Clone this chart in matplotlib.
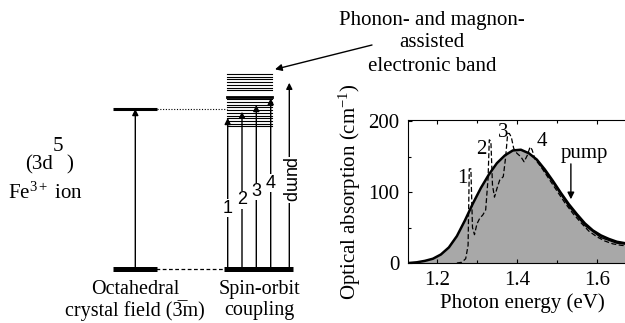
import numpy as np
import matplotlib
matplotlib.use('Agg')
import matplotlib.pyplot as plt

plt.rcParams['font.family'] = ['Liberation Serif', 'DejaVu Serif']
plt.rcParams['mathtext.fontset'] = 'custom'
plt.rcParams['mathtext.rm'] = 'Liberation Serif'
plt.rcParams['mathtext.it'] = 'Liberation Serif:italic'

# Level scheme (energies in units of the crystal-field level)
cf_levels = [0.0, 1.0]
band_levels = [1.219, 1.202, 1.185, 1.168, 1.151, 1.134, 1.117,
               1.078, 1.061, 1.044, 1.027, 1.010, 0.993, 0.976,
               0.959, 0.942, 0.925, 0.908, 0.891]
band_thick = 1.078
line_tips = [0.944, 0.983, 1.025, 1.067]
line_names = ['1', '2', '3', '4']
pump_tip = 1.164

# Absorption spectrum
e_fit = [1.13, 1.15, 1.17, 1.19, 1.21, 1.23, 1.25, 1.27, 1.29, 1.31, 1.33,
         1.35, 1.37, 1.39, 1.41, 1.43, 1.45, 1.47, 1.49, 1.51, 1.53, 1.55,
         1.57, 1.59, 1.61, 1.63, 1.65, 1.67, 1.70]
a_fit = [0, 1, 3, 6, 12, 22, 38, 60, 84, 106, 125,
         141, 152, 159, 160, 155, 146, 132, 116, 99, 83, 69,
         56, 46, 39, 34, 30, 28, 26]

e_tail = [1.45, 1.49, 1.53, 1.57, 1.61, 1.65, 1.70]
a_tail = [145, 114, 80, 53, 36, 28, 25]

e_meas = [1.25, 1.262, 1.272, 1.278, 1.281, 1.285, 1.289, 1.294, 1.300, 1.307,
          1.315, 1.322, 1.328, 1.331, 1.335, 1.339, 1.344, 1.350, 1.357, 1.366,
          1.372, 1.377, 1.381, 1.386, 1.392, 1.400, 1.410, 1.418, 1.426, 1.433,
          1.438, 1.445, 1.46, 1.48, 1.50, 1.52, 1.54, 1.56, 1.58, 1.60,
          1.62, 1.64, 1.66, 1.68, 1.70]
a_meas = [0, 1, 6, 25, 133, 133, 50, 40, 55, 63,
          68, 75, 120, 174, 172, 110, 93, 105, 117, 122,
          150, 183, 183, 178, 162, 155, 150, 143, 152, 164,
          160, 147, 136, 119, 102, 85, 70, 57, 45, 37,
          31, 27, 25, 24, 23]

peak_pos = [(1.263, 120), (1.310, 161), (1.365, 185), (1.462, 171)]
pump_e = 1.535

fig = plt.figure(figsize=(6.25, 3.23), dpi=100)

# ---- left: energy level diagram ----
ax0 = fig.add_axes([0, 0, 1, 1])
ax0.set_xlim(0, 625)
ax0.set_ylim(-0.3375, 1.68125)
ax0.axis('off')

arr = dict(arrowstyle='-|>', mutation_scale=9, lw=1.0, color='k', shrinkA=0, shrinkB=0)

ax0.plot([113, 157], [cf_levels[0]] * 2, color='k', lw=3.6, solid_capstyle='butt')
ax0.plot([113, 157], [cf_levels[1]] * 2, color='k', lw=2.2, solid_capstyle='butt')
ax0.annotate('', xy=(135.3, cf_levels[1]), xytext=(135.3, cf_levels[0]), arrowprops=arr)
ax0.plot([157, 227], [cf_levels[1]] * 2, color='k', lw=0.8, ls=(0, (1, 1.5)))
ax0.plot([156, 224], [cf_levels[0]] * 2, color='k', lw=0.9, ls=(0, (3, 2)))

ax0.plot([224, 293], [cf_levels[0]] * 2, color='k', lw=3.6, solid_capstyle='butt')
for lv in band_levels:
  ax0.plot([227, 272], [lv, lv], color='k', lw=0.8)
ax0.plot([227, 272], [band_thick, band_thick], color='k', lw=2.0)

xs_lines = [227.7, 242.0, 256.3, 270.7]
for ii in range(len(line_tips)):
  ax0.annotate('', xy=(xs_lines[ii], line_tips[ii]), xytext=(xs_lines[ii], cf_levels[0]), arrowprops=arr)
  ax0.text(xs_lines[ii], 0.381 + 0.052*ii, line_names[ii], family='Liberation Sans', fontsize=13,
           ha='center', va='center', bbox=dict(fc='white', ec='none', pad=0.3))
ax0.annotate('', xy=(289.3, pump_tip), xytext=(289.3, cf_levels[0]), arrowprops=arr)
ax0.text(289.3, 0.556, 'pump', family='Liberation Sans', fontsize=13, rotation=270,
         ha='center', va='center', bbox=dict(fc='white', ec='none', pad=0.3))

ax0.text(53, 0.65, '(3d', fontsize=15, ha='right', va='center')
ax0.text(58, 0.7625, '5', fontsize=15, ha='center', va='center')
ax0.text(66, 0.65, ')', fontsize=15, ha='left', va='center')
ax0.text(45, 0.475, r'Fe$^{3+}$ ion', fontsize=15, ha='center', va='center')
ax0.text(135, -0.13, 'Octahedral', fontsize=14.5, ha='center', va='center')
ax0.text(135, -0.262, 'crystal field (3\u0305m)', fontsize=14.5, ha='center', va='center')
ax0.text(259, -0.13, 'Spin-orbit', fontsize=14.5, ha='center', va='center')
ax0.text(259, -0.262, 'coupling', fontsize=14.5, ha='center', va='center')

ax0.text(432, 1.556, 'Phonon- and magnon-', fontsize=15, ha='center', va='center')
ax0.text(432, 1.4125, 'assisted', fontsize=15, ha='center', va='center')
ax0.text(432, 1.2625, 'electronic band', fontsize=15, ha='center', va='center')
ax0.annotate('', xy=(275, 1.248), xytext=(372, 1.40),
             arrowprops=dict(arrowstyle='-|>', mutation_scale=10, lw=1.0, color='k', shrinkA=0, shrinkB=0))

# ---- right: absorption spectrum ----
ax1 = fig.add_axes([0.6523, 0.1858, 0.3667, 0.4427])
ax1.fill_between(e_fit, a_fit, 0, color='#a8a8a8', lw=0)
ax1.plot(e_tail, a_tail, color='k', lw=1.0)
ax1.plot(e_meas, a_meas, color='k', lw=0.9, ls=(0, (4, 2)))
ax1.plot(e_fit, a_fit, color='k', lw=1.8)

for ii in range(len(peak_pos)):
  ax1.text(peak_pos[ii][0], peak_pos[ii][1], line_names[ii], fontsize=15, ha='center', va='center')
ax1.annotate('', xy=(pump_e, 90), xytext=(pump_e, 140),
             arrowprops=dict(arrowstyle='-|>', mutation_scale=10, lw=1.0, color='k', shrinkA=0, shrinkB=0))
ax1.text(1.57, 154, 'pump', fontsize=15, ha='center', va='center')

ax1.set_xlim(1.127, 1.70)
ax1.set_ylim(0, 202)
ax1.set_xticks([1.2, 1.4, 1.6])
ax1.set_xticks([1.3, 1.5, 1.7], minor=True)
ax1.set_yticks([0, 100, 200])
ax1.set_yticks([50, 150], minor=True)
ax1.tick_params(which='both', direction='in', top=True, right=True, labelsize=15, length=3, width=0.8, pad=6)
ax1.tick_params(which='minor', length=2)
for sp in ax1.spines.values():
  sp.set_linewidth(0.8)
ax1.set_xlabel('Photon energy (eV)', fontsize=15, labelpad=2)
ax1.set_ylabel(r'Optical absorption (cm$^{\mathrm{-1}}$)', fontsize=15, labelpad=4)

fig.savefig('out.png', dpi=100)
